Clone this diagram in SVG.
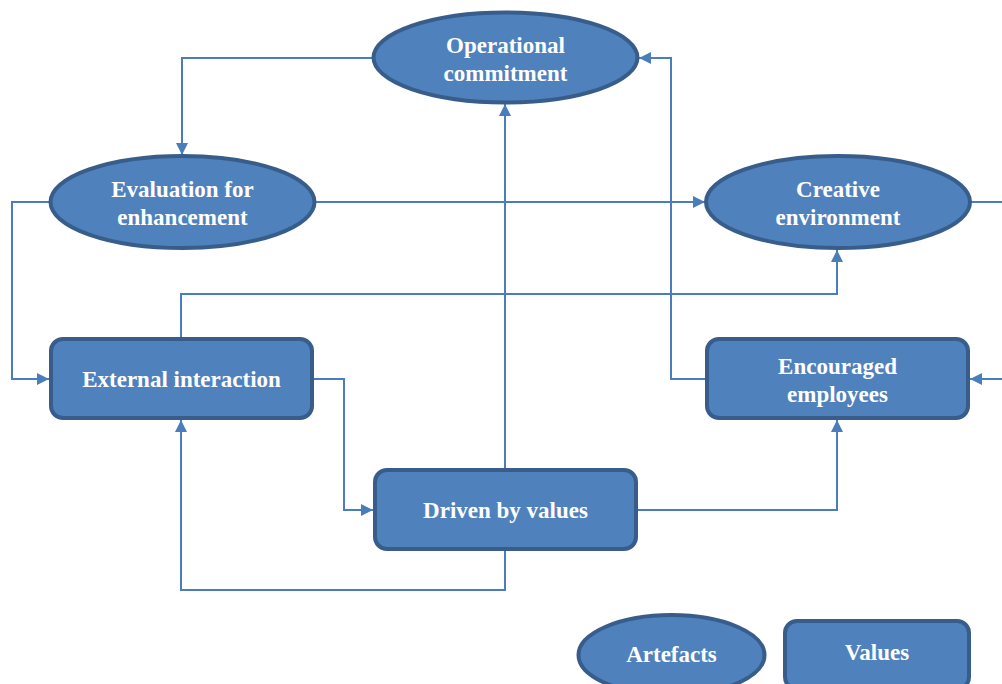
<svg xmlns="http://www.w3.org/2000/svg" width="1002" height="684" viewBox="0 0 1002 684">
<defs>
<marker id="arr" markerUnits="userSpaceOnUse" markerWidth="12" markerHeight="12" viewBox="0 0 12 12" refX="12" refY="6" orient="auto">
<path d="M0,0 L12,6 L0,12 Z" fill="#4a7ebb"/>
</marker>
<style>
.n{fill:#4f81bd;stroke:#385d8a;stroke-width:4}
.t{fill:#fff;font-family:"Liberation Serif","Times New Roman",serif;font-weight:bold;font-size:23px;text-anchor:middle}
.c{fill:none;stroke:#4a7ebb;stroke-width:2}
</style>
</defs>
<rect width="1002" height="684" fill="#fff"/>
<g id="connectors">
<polyline class="c" points="373,58 182,58 182,155" marker-end="url(#arr)"/>
<polyline class="c" points="50,202 12,202 12,379 49,379" marker-end="url(#arr)"/>
<polyline class="c" points="315,202 705,202" marker-end="url(#arr)"/>
<polyline class="c" points="970,202 1002,202"/>
<polyline class="c" points="1002,379 970,379" marker-end="url(#arr)"/>
<polyline class="c" points="706,379 671,379 671,58 639,58" marker-end="url(#arr)"/>
<polyline class="c" points="181,338 181,294 837,294 837,250" marker-end="url(#arr)"/>
<polyline class="c" points="313,379 344,379 344,510 373,510" marker-end="url(#arr)"/>
<polyline class="c" points="505,469 505,104" marker-end="url(#arr)"/>
<polyline class="c" points="505,550 505,590 181,590 181,420" marker-end="url(#arr)"/>
<polyline class="c" points="637,510 837,510 837,420" marker-end="url(#arr)"/>
</g>
<g id="operational">
<ellipse class="n" cx="505.5" cy="57.5" rx="132" ry="45"/>
<text class="t" x="505.5" y="53">Operational</text>
<text class="t" x="505.5" y="81">commitment</text>
</g>
<g id="evaluation">
<ellipse class="n" cx="182.5" cy="202" rx="132" ry="46"/>
<text class="t" x="182.5" y="197">Evaluation for</text>
<text class="t" x="182.5" y="225">enhancement</text>
</g>
<g id="creative">
<ellipse class="n" cx="838" cy="202" rx="132" ry="46"/>
<text class="t" x="838" y="197">Creative</text>
<text class="t" x="838" y="225">environment</text>
</g>
<g id="external">
<rect class="n" x="51" y="339" width="261" height="79" rx="12"/>
<text class="t" x="181.5" y="387">External interaction</text>
</g>
<g id="encouraged">
<rect class="n" x="707" y="339" width="261" height="79" rx="12"/>
<text class="t" x="837.5" y="374">Encouraged</text>
<text class="t" x="837.5" y="402">employees</text>
</g>
<g id="driven">
<rect class="n" x="375" y="470" width="261" height="79" rx="12"/>
<text class="t" x="505.5" y="518">Driven by values</text>
</g>
<g id="artefacts">
<ellipse class="n" cx="671.5" cy="655" rx="93" ry="40"/>
<text class="t" x="671.5" y="662">Artefacts</text>
</g>
<g id="values">
<rect class="n" x="785" y="621" width="184" height="68" rx="12"/>
<text class="t" x="877" y="660">Values</text>
</g>
</svg>
